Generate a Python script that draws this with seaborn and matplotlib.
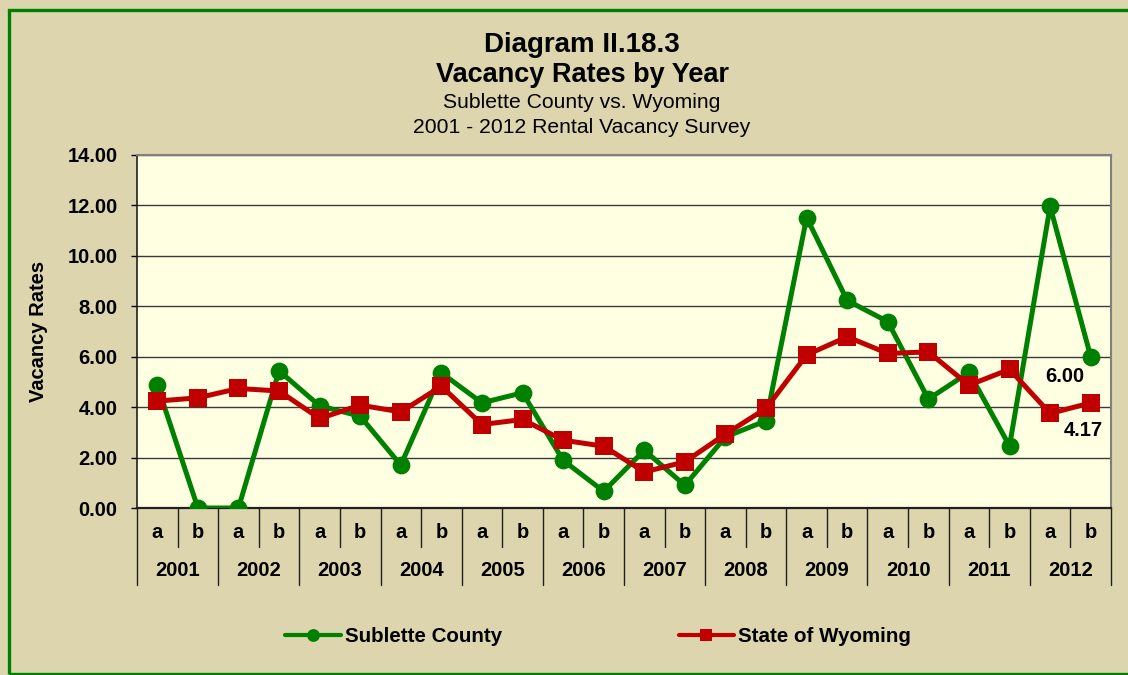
import numpy as np
import pandas as pd
import matplotlib
matplotlib.use("Agg")
import matplotlib.pyplot as plt
import matplotlib.transforms as mtransforms
from matplotlib.patches import Rectangle
import seaborn as sns

# Survey periods: two surveys (a, b) per year
years = ["2001", "2002", "2003", "2004", "2005", "2006",
         "2007", "2008", "2009", "2010", "2011", "2012"]
halves = ["a", "b"]

sublette = [4.87, 0.00, 0.00, 5.44, 4.05, 3.64, 1.70, 5.36, 4.17, 4.57, 1.89, 0.66,
            2.29, 0.90, 2.82, 3.46, 11.52, 8.23, 7.39, 4.32, 5.38, 2.46, 11.96, 6.00]
wyoming = [4.24, 4.37, 4.74, 4.64, 3.55, 4.08, 3.81, 4.83, 3.31, 3.51, 2.69, 2.45,
           1.43, 1.83, 2.93, 3.95, 6.07, 6.79, 6.13, 6.19, 4.87, 5.50, 3.75, 4.17]

series_names = ["Sublette County", "State of Wyoming"]

BG = "#DDD5AE"
PLOT_BG = "#FFFFE1"
GREEN = "#008000"
RED = "#C00000"

sns.set_theme(style="white")
plt.rcParams["font.family"] = ["Liberation Sans", "DejaVu Sans"]
plt.rcParams.update({"text.color": "black", "axes.labelcolor": "black",
                     "xtick.color": "black", "ytick.color": "black"})

W, H = 1128, 675
fig = plt.figure(figsize=(W / 100, H / 100), dpi=100, facecolor=BG)

def fx(px):
    return px / W

def fy(py):
    return 1 - py / H

ax = fig.add_axes([fx(137), fy(508), fx(1111) - fx(137), fy(155) - fy(508)])
ax.set_facecolor(PLOT_BG)

n = len(sublette)
idx = np.arange(n)
df = pd.DataFrame({
    "idx": np.concatenate([idx, idx]),
    "rate": sublette + wyoming,
    "series": [series_names[0]] * n + [series_names[1]] * n,
})

sns.lineplot(data=df, x="idx", y="rate", hue="series", style="series",
             hue_order=series_names, style_order=series_names,
             palette={series_names[0]: GREEN, series_names[1]: RED},
             markers={series_names[0]: "o", series_names[1]: "s"},
             dashes=False, linewidth=3.6, markersize=12.8,
             markeredgewidth=0, ax=ax, zorder=3, legend=True)

ax.set_xlim(-0.5, n - 0.5)
ax.set_ylim(0, 14)
ax.set_yticks(np.arange(0, 15, 2))
ax.set_yticklabels([f"{v:.2f}" for v in np.arange(0, 15, 2)],
                   fontsize=14.5, fontweight="bold", color="black")
ax.tick_params(axis="y", direction="out", length=4, width=1, color="black",
               left=True, pad=10)
ax.set_xticks([])
ax.set_xlabel("")
ax.set_ylabel("Vacancy Rates", fontsize=14.5, fontweight="bold",
              color="black", labelpad=14)

ax.grid(False)
ax.yaxis.grid(True, color="#3A3A3A", linewidth=1.0)
ax.set_axisbelow(True)
for side in ["top", "right"]:
    ax.spines[side].set_color("#808080")
    ax.spines[side].set_linewidth(1.5)
ax.spines["left"].set_color("#202020")
ax.spines["left"].set_linewidth(1.2)
ax.spines["bottom"].set_color("#202020")
ax.spines["bottom"].set_linewidth(1.6)

# Two-level category axis: a/b row and year row with separators
trans = mtransforms.blended_transform_factory(ax.transData, ax.transAxes)
ax_h_px = 508 - 155
short_drop = -39 / ax_h_px
long_drop = -77 / ax_h_px
for k in range(n + 1):
    x = k - 0.5
    drop = long_drop if k % 2 == 0 else short_drop
    ax.plot([x, x], [0, drop], transform=trans, color="#202020",
            linewidth=1.0, clip_on=False)
for i in range(n):
    ax.text(i, -25 / ax_h_px, halves[i % 2], transform=trans, ha="center",
            va="center", fontsize=14.5, fontweight="bold")
for j, yr in enumerate(years):
    ax.text(2 * j + 0.5, -63 / ax_h_px, yr, transform=trans, ha="center",
            va="center", fontsize=14.5, fontweight="bold")

# Value labels on the last survey point
last = n - 1
ax.annotate(f"{sublette[last]:.2f}", (last, sublette[last]),
            xytext=(-19, -14), textcoords="offset points", ha="center",
            va="center", fontsize=14.5, fontweight="bold")
ax.annotate(f"{wyoming[last]:.2f}", (last, wyoming[last]),
            xytext=(-5, -20), textcoords="offset points", ha="center",
            va="center", fontsize=14.5, fontweight="bold")

# Legend below the chart
handles, labels = ax.get_legend_handles_labels()
ax.legend_.remove()
for h in handles:
    h.set_linewidth(3.0)
leg = fig.legend(handles, labels, loc="center", ncol=2,
                 bbox_to_anchor=(fx(598), fy(637)), frameon=False,
                 markerscale=0.72, handlelength=2.7, handletextpad=0.2,
                 columnspacing=8.6, prop={"size": 14.8, "weight": "bold"})

# Titles
cx = fx(582)
fig.text(cx, fy(52), "Diagram II.18.3", ha="center", va="baseline",
         fontsize=20, fontweight="bold")
fig.text(cx, fy(82), "Vacancy Rates by Year", ha="center", va="baseline",
         fontsize=19.5, fontweight="bold")
fig.text(cx, fy(108), "Sublette County vs. Wyoming", ha="center",
         va="baseline", fontsize=15.2)
fig.text(cx, fy(133), "2001 - 2012 Rental Vacancy Survey", ha="center",
         va="baseline", fontsize=15.2)

# Green frame around the chart area
fig.patches.append(Rectangle((fx(8.5), fy(673.5)), 1.2, fy(9.5) - fy(673.5),
                             transform=fig.transFigure, fill=False,
                             edgecolor=GREEN, linewidth=2.4, zorder=0))

fig.savefig("out.png", dpi=100, facecolor=BG)
